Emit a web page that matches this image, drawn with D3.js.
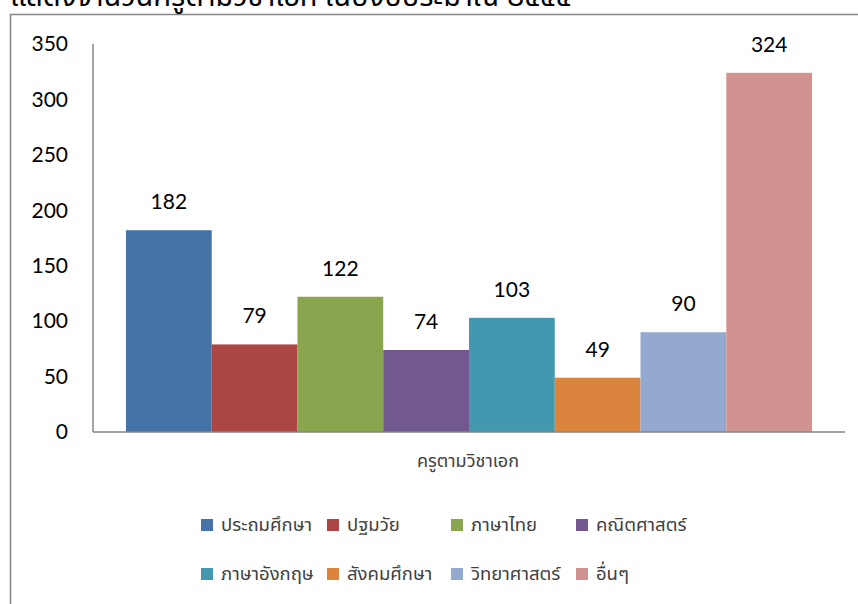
<!DOCTYPE html>
<html><head><meta charset="utf-8">
<script src="https://cdn.jsdelivr.net/npm/d3@7"></script>
<style>body{margin:0;background:#fff}svg{display:block}</style>
</head><body>
<svg id="c" width="858" height="604"></svg>
<script>
const title = "แสดงจำนวนครูตามวิชาเอก ในปีงบประมาณ ๒๕๕๕";
const category = "ครูตามวิชาเอก";
const series = ["ประถมศึกษา","ปฐมวัย","ภาษาไทย","คณิตศาสตร์","ภาษาอังกฤษ","สังคมศึกษา","วิทยาศาสตร์","อื่นๆ"];
const values = [182, 79, 122, 74, 103, 49, 90, 324];
const colors = ["#4572A7","#AA4643","#89A54E","#71588F","#4198AF","#DB843D","#93A9CF","#D19392"];
const yTicks = [0,50,100,150,200,250,300,350];

(function(){
const svg = d3.select("#c");
const font = "Lato, 'Open Sans', sans-serif";
const thaiFont = "'Noto Sans Thai','Noto Sans','Tahoma',sans-serif";

svg.append("rect").attr("x",10.5).attr("y",14.5).attr("width",900).attr("height",700)
  .attr("fill","#fff").attr("stroke","#868686").attr("stroke-width",1.5);

svg.append("text").attr("x",10).attr("y",6).attr("font-family",thaiFont).attr("font-size",29)
  .attr("fill","#000").text(title);

const pl=93, pr=845, pt=44, pb=432;
const y = d3.scaleLinear().domain([0,350]).range([pb, pt]);
const xg = d3.scaleBand().domain([category]).range([pl,pr]).paddingInner(0).paddingOuter(0.048);
const xs = d3.scaleBand().domain(series).range([xg(category), xg(category)+xg.bandwidth()]);

svg.append("g").selectAll("text").data(yTicks).join("text")
  .attr("x",68).attr("y",d=>y(d)).attr("dy","0.35em").attr("text-anchor","end")
  .attr("font-family",font).attr("font-size",21).attr("fill","#000").text(d=>d);

svg.append("g").selectAll("rect").data(values).join("rect")
  .attr("x",(d,i)=>xs(series[i])).attr("width",xs.bandwidth())
  .attr("y",d=>y(d)).attr("height",d=>y(0)-y(d)).attr("fill",(d,i)=>colors[i]);

svg.append("g").selectAll("text").data(values).join("text")
  .attr("x",(d,i)=>xs(series[i])+xs.bandwidth()/2).attr("y",d=>y(d)-21)
  .attr("text-anchor","middle").attr("font-family",font).attr("font-size",21).attr("fill","#000").text(d=>d);

svg.append("line").attr("x1",pl).attr("x2",pl).attr("y1",pt).attr("y2",pb)
  .attr("stroke","#868686").attr("stroke-width",1.5);
svg.append("line").attr("x1",pl).attr("x2",pr).attr("y1",pb).attr("y2",pb)
  .attr("stroke","#868686").attr("stroke-width",1.5);

svg.append("text").attr("x",468).attr("y",467).attr("text-anchor","middle")
  .attr("font-family",thaiFont).attr("font-size",18).attr("fill","#404040").text(category);

const lx=[201,327,451,576], ly=[525,574];
const lg = svg.append("g").selectAll("g").data(series).join("g")
  .attr("transform",(d,i)=>`translate(${lx[i%4]},${ly[Math.floor(i/4)]})`);
lg.append("rect").attr("x",0).attr("y",-6).attr("width",12).attr("height",12).attr("fill",(d,i)=>colors[i]);
lg.append("text").attr("x",20).attr("y",0).attr("dy","0.35em").attr("font-family",thaiFont)
  .attr("font-size",18.5).attr("fill","#404040").text(d=>d);
})();
</script>
</body></html>
